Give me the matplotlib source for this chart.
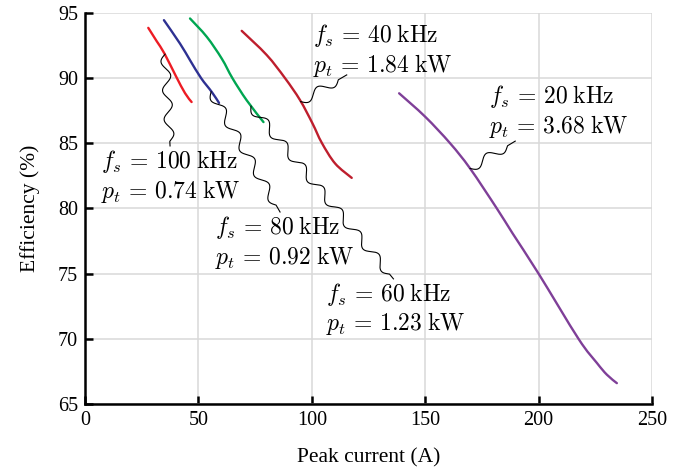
import numpy as np
import matplotlib
matplotlib.use('Agg')
import matplotlib.pyplot as plt
from matplotlib.path import Path
from matplotlib.patches import PathPatch

plt.rcParams['mathtext.fontset'] = 'cm'
plt.rcParams['font.family'] = ['Liberation Serif', 'DejaVu Serif']

# curves: peak current (A), efficiency (%)
i_100k = [27.9, 31.6, 35.0, 40.1, 44.1, 47.0]
e_100k = [93.86, 92.84, 91.9, 90.15, 88.85, 88.17]
i_80k = [34.8, 41.9, 46.3, 51.2, 55.9, 59.1]
e_80k = [94.45, 92.65, 91.38, 90.0, 88.94, 88.1]
i_60k = [46.3, 53.7, 60.3, 65.0, 71.3, 78.7]
e_60k = [94.58, 93.17, 91.5, 90.0, 88.3, 86.63]
i_40k = [69.1, 80.1, 88.2, 94.8, 100.3, 104.4, 110.3, 117.6]
e_40k = [93.63, 91.78, 90.0, 88.32, 86.53, 85.04, 83.45, 82.35]
i_20k = [138.5, 150, 161.0, 169.8, 181.6, 188.5, 200, 217.6, 225.7, 230.1, 234.5]
e_20k = [88.84, 87.04, 85.0, 83.07, 80.0, 78.1, 75.0, 70.0, 68.15, 67.25, 66.6]

labels_fs = ['100', '80', '60', '40', '20']
labels_pt = ['0.74', '0.92', '1.23', '1.84', '3.68']
colors = ['#ED1C24', '#2E3192', '#00A651', '#BE1E2D', '#7F3F98']
curves = [(i_100k, e_100k), (i_80k, e_80k), (i_60k, e_60k), (i_40k, e_40k), (i_20k, e_20k)]

fig = plt.figure(figsize=(6.85, 4.72), dpi=100)
ax = fig.add_axes([85 / 685, 1 - 404 / 472, 567 / 685, 391 / 472])
ax.set_xlim(0, 250)
ax.set_ylim(65, 95)
ax.set_xticks([0, 50, 100, 150, 200, 250])
ax.set_yticks([65, 70, 75, 80, 85, 90, 95])
ax.grid(True, color='#d9d9d9', lw=1.1)
ax.set_axisbelow(True)
for s in ['top', 'right']:
    ax.spines[s].set_visible(False)
for s in ['left', 'bottom']:
    ax.spines[s].set_linewidth(1.8)
ax.tick_params(direction='in', length=6, width=1.8, labelsize=14.5, pad=5)
ax.set_xlabel('Peak current (A)', fontsize=15.5, labelpad=13)
ax.set_ylabel('Efficiency (%)', fontsize=15.5, labelpad=13)


def smooth_line(x, y, color):
    # catmull-rom through the read points, drawn as cubic bezier segments
    P = np.column_stack([x, y])
    n = len(P)
    verts = [P[0]]
    codes = [Path.MOVETO]
    for i in range(n - 1):
        p0 = P[max(i - 1, 0)]
        p1 = P[i]
        p2 = P[i + 1]
        p3 = P[min(i + 2, n - 1)]
        verts += [p1 + (p2 - p0) / 6, p2 - (p3 - p1) / 6, p2]
        codes += [Path.CURVE4] * 3
    ax.add_patch(PathPatch(Path(verts, codes), fill=False, ec=color, lw=1.7,
                           capstyle='round', zorder=3))


for (x, y), c in zip(curves, colors):
    smooth_line(x, y, c)


def snake(start, end, amp=4.5, wl=29):
    # wavy leader line, built in pixel space
    p0 = ax.transData.transform(start)
    p1 = ax.transData.transform(end)
    d = p1 - p0
    L = np.hypot(*d)
    u = d / L
    n = np.array([u[1], -u[0]])
    t = np.linspace(0, L, 400)
    nper = max(1.0, np.floor(L / wl * 2) / 2)
    Lw = nper * wl
    w = np.where(t < Lw, amp * np.sin(2 * np.pi * t / wl), 0)
    pts = p0 + np.outer(t, u) + np.outer(w, n)
    dd = ax.transData.inverted().transform(pts)
    ax.plot(dd[:, 0], dd[:, 1], color='k', lw=0.8, clip_on=False, zorder=4)


# leader start (on curve), leader end, label position (left, baseline of first line)
leaders = [
    ((35.3, 91.84), (37.5, 84.8), (7.2, 83.07)),
    ((55.6, 88.95), (86.0, 79.73), (57.1, 78.02)),
    ((73.2, 87.85), (136.0, 74.6), (106.4, 72.94)),
    ((95.1, 88.2), (115.4, 90.25), (100.4, 92.75)),
    ((169.8, 83.07), (189.7, 85.17), (178.0, 88.07)),
]

for (s, e, pos), fs, pt in zip(leaders, labels_fs, labels_pt):
    snake(s, e)
    ax.text(pos[0], pos[1], r'$f_s\,=\,%s\;\mathrm{kHz}$' % fs, fontsize=17,
            ha='left', va='baseline')
    ax.text(pos[0], pos[1] - 2.28, r'$p_t\,=\,%s\;\mathrm{kW}$' % pt, fontsize=17,
            ha='left', va='baseline')

fig.savefig('out.png', dpi=100)
